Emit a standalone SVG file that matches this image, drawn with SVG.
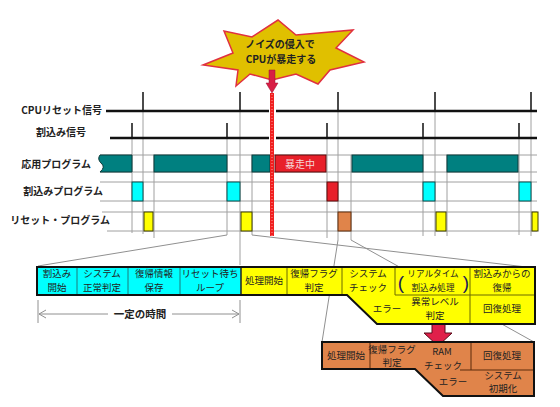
<svg xmlns="http://www.w3.org/2000/svg" width="560" height="407" viewBox="0 0 560 407">
<style>
.lbl{font-family:"Noto Sans CJK JP","Noto Sans",sans-serif;font-weight:bold;font-size:10px;fill:#222;text-anchor:end}
.t{font-family:"Noto Sans CJK JP","Noto Sans",sans-serif;font-size:9.5px;fill:#222;text-anchor:middle}
.star{font-family:"Noto Sans CJK JP","Noto Sans",sans-serif;font-weight:bold;font-size:10px;fill:#222;text-anchor:middle}
.g{stroke:#a0a0a0;stroke-width:1;fill:none}
.gs{stroke:#909090;stroke-width:1;fill:none}
.blk{stroke:#111;stroke-width:2.5;fill:none}
.tick{stroke:#111;stroke-width:1.5;fill:none}
.app{fill:#008080;stroke:#0d3b3b;stroke-width:1}
.cy{fill:#00ffff;stroke:#0a4a4a;stroke-width:1}
.ye{fill:#ffff00;stroke:#3a3a00;stroke-width:1}
.rd{fill:#e8202a;stroke:#5a0a0a;stroke-width:1}
.or{fill:#e0844a;stroke:#5a2a0a;stroke-width:1}
.dc{stroke:#1c7a7a;stroke-width:1}
.dy{stroke:#6b6b00;stroke-width:1}
.do{stroke:#5a2a0a;stroke-width:1}
.par{font-family:"Liberation Sans",sans-serif;font-size:19px;fill:#1a1a5a;text-anchor:middle}
</style>

<g id="grid">
  <path class="g" d="M100 155H537M100 172H537M100 182H537M100 201H537M102 212H537M107 231H537"/>
  <path class="g" d="M132 138V233M143 111V234M154 155V238"/>
  <path class="g" d="M227 138V235M240 111V265M252 155V235"/>
  <path class="g" d="M327 138V238M338 111V240M351 155V240"/>
  <path class="g" d="M423 138V236M435 111V236M447 155V236"/>
  <path class="g" d="M519 138V235M531 111V236"/>
</g>

<g id="connectors">
  <path class="gs" d="M227 235L38 266"/>
  <path class="gs" d="M252 235L535 268"/>
  <path class="gs" d="M338 240L322 342"/>
  <path class="gs" d="M351 240L534 342"/>
  <path class="gs" d="M38 300V323M240 300V323"/>
  <path class="gs" d="M39 314H108M172 314H239M46 310L39 314L46 318M232 310L239 314L232 318"/>
</g>

<g id="signals">
  <path class="blk" d="M106 111H269M276 111H537"/>
  <path class="blk" d="M110 138H269M276 138H537"/>
  <path class="tick" d="M143 92V111M240 92V111M338 92V111M435 92V111M531 92V111"/>
  <path class="tick" d="M132 123V138M227 123V138M327 123V138M423 123V138M519 123V138"/>
</g>

<g id="labels">
  <text class="lbl" x="102" y="114">CPUリセット信号</text>
  <text class="lbl" x="86" y="136">割込み信号</text>
  <text class="lbl" x="91" y="168">応用プログラム</text>
  <text class="lbl" x="103" y="195">割込みプログラム</text>
  <text class="lbl" x="110" y="224">リセット・プログラム</text>
</g>

<g id="app-program">
  <path class="app" d="M100 155H132V172H100Q106 167 101 163Q97 159 100 155Z"/>
  <rect class="app" x="154" y="155" width="73" height="17"/>
  <rect class="app" x="252" y="155" width="18" height="17"/>
  <rect class="rd" x="275" y="155" width="51" height="17"/>
  <text x="300" y="168" style="font-family:'Noto Sans CJK JP',sans-serif;font-size:10px;fill:#f4d8d8;text-anchor:middle">暴走中</text>
  <rect class="app" x="352" y="155" width="71" height="17"/>
  <rect class="app" x="447" y="155" width="71" height="17"/>
</g>

<g id="interrupt-program">
  <rect class="cy" x="132" y="182" width="11" height="19"/>
  <rect class="cy" x="227" y="182" width="13" height="19"/>
  <rect class="rd" x="327" y="182" width="11" height="19"/>
  <rect class="cy" x="423" y="182" width="12" height="19"/>
  <rect class="cy" x="519" y="182" width="12" height="19"/>
</g>

<g id="reset-program">
  <rect class="ye" x="144" y="212" width="9" height="19"/>
  <rect class="ye" x="241" y="212" width="11" height="19"/>
  <rect class="or" x="338" y="212" width="13" height="19"/>
  <rect class="ye" x="436" y="212" width="10" height="19"/>
  <rect class="ye" x="532" y="212" width="6" height="19"/>
</g>

<g id="noise-line">
  <rect x="270" y="93" width="4" height="143" fill="#f02020"/>
  <path d="M272 94V236" stroke="#ff9a9a" stroke-width="1" stroke-dasharray="1 2"/>
</g>

<g id="noise-star">
  <polygon points="203,65 233,53 224,31 252,37 278,20 296,35 353,30 336,48 364,62 330,70 318,84 296,74 272,80 250,74 236,86 238,70" fill="#e0c000" stroke="#e03040" stroke-width="1.5"/>
  <text class="star" x="280" y="48">ノイズの侵入で</text>
  <text class="star" x="281" y="63">CPUが暴走する</text>
  <path d="M269 70H275V83H278L272 93L266 83H269Z" fill="#d81e44" stroke="#9a1030" stroke-width="0.5"/>
</g>

<g id="red-arrow">
  <path d="M432 318H445V333H452L438 346L424 333H432Z" fill="#e0204a" stroke="#5a0a1a" stroke-width="1"/>
</g>

<g id="detail-bar">
  <rect x="37" y="267" width="204" height="28" fill="#00ffff"/>
  <path d="M241 267H535V324H377L347 295H241Z" fill="#ffff00"/>
  <path class="dc" d="M77 267V295M128 267V295M180 267V295"/>
  <path class="dy" d="M287 267V295M342 267V295M395 267V295M470 267V324M395 295H535"/>
  <path d="M241 267V295" stroke="#222" stroke-width="1.5"/>
  <path d="M37 267H535V324H377L347 295H37Z" fill="none" stroke="#111" stroke-width="2"/>
  <text class="t" x="57" y="277">割込み</text>
  <text class="t" x="57" y="291">開始</text>
  <text class="t" x="102" y="277">システム</text>
  <text class="t" x="102" y="291">正常判定</text>
  <text class="t" x="154" y="277">復帰情報</text>
  <text class="t" x="154" y="291">保存</text>
  <text class="t" x="210" y="277">リセット待ち</text>
  <text class="t" x="210" y="291">ループ</text>
  <text class="t" x="264" y="284">処理開始</text>
  <text class="t" x="314" y="277">復帰フラグ</text>
  <text class="t" x="314" y="291">判定</text>
  <text class="t" x="368" y="277">システム</text>
  <text class="t" x="368" y="291">チェック</text>
  <text class="t" x="433" y="277" style="font-size:8.6px">リアルタイム</text>
  <text class="t" x="433" y="291" style="font-size:8.6px">割込み処理</text>
  <text class="par" x="401" y="289">(</text>
  <text class="par" x="466" y="289">)</text>
  <text class="t" x="502" y="277">割込みからの</text>
  <text class="t" x="502" y="291">復帰</text>
  <text class="t" x="387" y="312">エラー</text>
  <text class="t" x="435" y="305">異常レベル</text>
  <text class="t" x="435" y="319">判定</text>
  <text class="t" x="502" y="312">回復処理</text>
  <text x="140" y="318" style="font-family:'Noto Sans CJK JP',sans-serif;font-weight:bold;font-size:10.5px;fill:#222;text-anchor:middle">一定の時間</text>
</g>

<g id="recovery-bar">
  <path d="M322 342H534V396H443L415 369H322Z" fill="#e0844a"/>
  <path class="do" d="M370 342V369M471 342V370M460 370H534"/>
  <path d="M322 342H534V396H443L415 369H322Z" fill="none" stroke="#111" stroke-width="2"/>
  <text class="t" x="346" y="359">処理開始</text>
  <text class="t" x="392" y="353">復帰フラグ</text>
  <text class="t" x="392" y="366">判定</text>
  <text class="t" x="442" y="355">RAM</text>
  <text class="t" x="443" y="369">チェック</text>
  <text class="t" x="502" y="359">回復処理</text>
  <text class="t" x="453" y="385">エラー</text>
  <text class="t" x="503" y="379">システム</text>
  <text class="t" x="503" y="392">初期化</text>
</g>
</svg>
